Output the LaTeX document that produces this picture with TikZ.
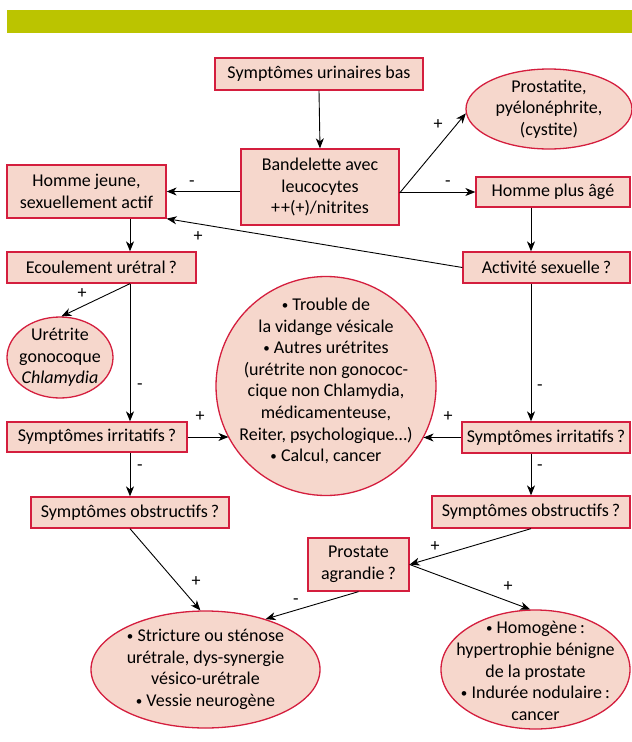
\documentclass[tikz,border=0pt]{standalone}
\usepackage{fontspec}
\setmainfont{Carlito}
\usetikzlibrary{shapes.geometric,arrows.meta}

\definecolor{boxfill}{HTML}{F6D7CC}
\definecolor{boxline}{HTML}{D41E3E}
\definecolor{barcol}{HTML}{BBC400}
\newcommand\diagfont{\fontsize{18}{21.6}\selectfont}
\newcommand\smbul{\raisebox{1pt}{\fontsize{13}{13}\selectfont •}}

\tikzset{
  box/.style={draw=boxline, fill=boxfill, line width=1.3pt, inner sep=0pt, align=center, font=\diagfont},
  bubble/.style={ellipse, draw=boxline, fill=boxfill, line width=1.3pt, inner sep=0pt},
  txt/.style={align=center, font=\diagfont, inner sep=0pt},
  sign/.style={font=\diagfont, inner sep=0pt},
  link/.style={-{Stealth[length=10pt,width=8pt,inset=3pt]}, line width=0.9pt}
}

\begin{document}
\begin{tikzpicture}[x=1pt, y=-1pt]
    \useasboundingbox (0,0) rectangle (632,742);

    % the green band on top
    \fill[barcol] (7,10) rectangle (632,33);

    % these are the boxes
    \node[box, minimum width=208, minimum height=32] (symp) at (319,74) {Symptômes urinaires bas};
    \node[box, minimum width=158, minimum height=76] (bandel) at (320,187) {Bandelette avec\\leucocytes\\+\kern1pt+(+)/nitrites};
    \node[box, minimum width=159, minimum height=53] (hjeune) at (86.5,191.5) {Homme jeune,\\sexuellement actif};
    \node[box, minimum width=154, minimum height=30] (hagee) at (553,192) {Homme plus âgé};
    \node[box, minimum width=189, minimum height=31] (ecoul) at (101.5,267.5) {Ecoulement urétral\,?};
    \node[box, minimum width=167, minimum height=31] (activ) at (546.5,267.5) {Activité sexuelle\,?};
    \node[box, minimum width=180, minimum height=30] (irritL) at (97,437) {Symptômes irritatifs\,?};
    \node[box, minimum width=168, minimum height=31] (irritR) at (546,437.5) {Symptômes irritatifs\,?};
    \node[box, minimum width=198, minimum height=31] (obstrL) at (130,512.5) {Symptômes obstructifs\,?};
    \node[box, minimum width=198, minimum height=32] (obstrR) at (531,512) {Symptômes obstructifs\,?};
    \node[box, minimum width=101, minimum height=53] (prost) at (358.5,564.5) {Prostate\\agrandie\,?};

    % these are the ellipses
    \node[bubble, minimum width=166, minimum height=80] (prosta) at (549,109) {};
    \node[txt] (prostaT) at (prosta) {Prostatite,\\pyélonéphrite,\\(cystite)};
    \node[bubble, minimum width=106, minimum height=81] (uret) at (60,357.5) {};
    \node[txt] (uretT) at (uret) {Urétrite\\gonocoque\\\textit{Chlamydia}};
    \node[bubble, minimum width=220, minimum height=219] (bigc) at (326,386) {};
    \node[txt] (bigcT) at (326,381) {\smbul\ Trouble de\\la vidange vésicale\\\smbul\ Autres urétrites\\(urétrite non gonococ-\\cique non Chlamydia,\\médicamenteuse,\\Reiter, psychologique…)\\\smbul\ Calcul, cancer};
    \node[bubble, minimum width=229, minimum height=117] (strict) at (205.5,669.5) {};
    \node[txt] (strictT) at (strict) {\smbul\ Stricture ou sténose\\urétrale, dys-synergie\\vésico-urétrale\\\smbul\ Vessie neurogène};
    \node[bubble, minimum width=189, minimum height=119] (homog) at (535.5,669.5) {};
    \node[txt] (homogT) at (535.5,671) {\smbul\ Homogène\,:\\hypertrophie bénigne\\de la prostate\\\smbul\ Indurée nodulaire\,:\\cancer};

    % these are the arrows
    \draw[link] (symp.south) -- (bandel.north);
    \draw[link] ([yshift=-6pt]bandel.east) -- (prosta.183);
    \draw[link] (bandel.east |- hagee.west) -- (hagee.west);
    \draw[link] (bandel.west |- hjeune.east) -- (hjeune.east);
    \draw[link] (activ.west) -- (hjeune.south east);
    \draw[link] (hjeune.south -| obstrL.north) -- (ecoul.north -| obstrL.north);
    \draw[link] (ecoul.south -| obstrL.north) -- (uret.88);
    \draw[link] (ecoul.south -| obstrL.north) -- (irritL.north -| obstrL.north);
    \draw[link] (irritL.east) -- (irritL.east -| bigc.208);
    \draw[link] (irritL.south -| obstrL.north) -- (obstrL.north);
    \draw[link] (hagee.south -| obstrR.north) -- (activ.north -| obstrR.north);
    \draw[link] (activ.south -| obstrR.north) -- (irritR.north -| obstrR.north);
    \draw[link] (irritR.west) -- (irritR.west -| bigc.332);
    \draw[link] (irritR.south -| obstrR.north) -- (obstrR.north);
    \draw[link] (obstrR.south) -- (prost.east);
    \draw[link] (prost.east) -- (homog.95);
    \draw[link] (prost.south) -- (strict.40);
    \draw[link] (obstrL.south) -- (strict.95);

    % and the signs
    \node[sign] (s1) at (438,125) {+};
    \node[sign] (s2) at (448,184) {-};
    \node[sign] (s3) at (192,184) {-};
    \node[sign] (s4) at (198,237) {+};
    \node[sign] (s5) at (82,294) {+};
    \node[sign] (s6) at (140,387) {-};
    \node[sign] (s7) at (200,417) {+};
    \node[sign] (s8) at (140,468) {-};
    \node[sign] (s9) at (540,388) {-};
    \node[sign] (s10) at (448,417) {+};
    \node[sign] (s11) at (540,468) {-};
    \node[sign] (s12) at (435,547) {+};
    \node[sign] (s13) at (508,587) {+};
    \node[sign] (s14) at (296,602) {-};
    \node[sign] (s15) at (196,582) {+};

\end{tikzpicture}
\end{document}
